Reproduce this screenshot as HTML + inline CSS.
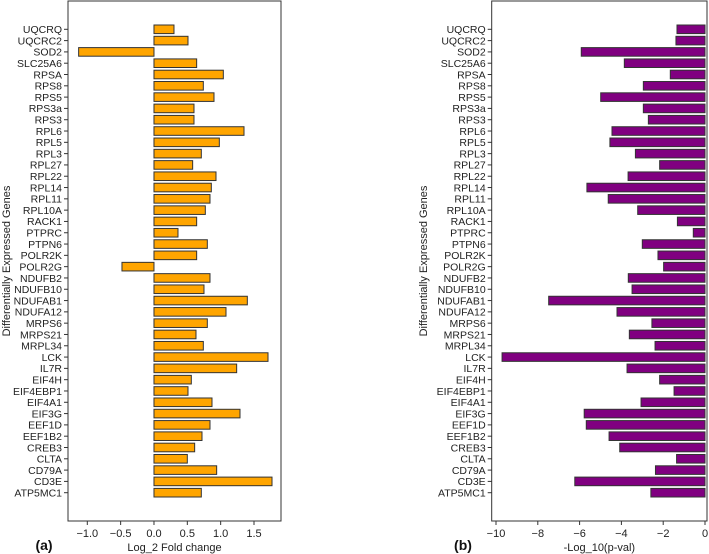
<!DOCTYPE html>
<html><head><meta charset="utf-8"><style>
body{margin:0;background:#fff;}
svg{display:block;font-family:"Liberation Sans","DejaVu Sans",sans-serif;}
</style></head><body>
<svg id="chart" width="709" height="554"></svg>
<script>
const genes=["UQCRQ","UQCRC2","SOD2","SLC25A6","RPSA","RPS8","RPS5","RPS3a","RPS3","RPL6","RPL5","RPL3","RPL27","RPL22","RPL14","RPL11","RPL10A","RACK1","PTPRC","PTPN6","POLR2K","POLR2G","NDUFB2","NDUFB10","NDUFAB1","NDUFA12","MRPS6","MRPS21","MRPL34","LCK","IL7R","EIF4H","EIF4EBP1","EIF4A1","EIF3G","EEF1D","EEF1B2","CREB3","CLTA","CD79A","CD3E","ATP5MC1"];
const foldChange=[0.30,0.51,-1.13,0.64,1.04,0.74,0.90,0.60,0.60,1.35,0.98,0.71,0.58,0.93,0.86,0.84,0.77,0.64,0.36,0.80,0.64,-0.48,0.84,0.75,1.40,1.08,0.80,0.63,0.74,1.71,1.24,0.56,0.51,0.87,1.29,0.84,0.72,0.61,0.50,0.94,1.77,0.71];
const negLogP=[-1.34,-1.39,-5.92,-3.86,-1.66,-2.95,-4.99,-2.95,-2.71,-4.45,-4.55,-3.33,-2.17,-3.68,-5.65,-4.63,-3.22,-1.32,-0.56,-3.0,-2.25,-1.98,-3.67,-3.49,-7.48,-4.21,-2.54,-3.62,-2.39,-9.71,-3.73,-2.17,-1.48,-3.06,-5.78,-5.68,-4.59,-4.08,-1.36,-2.37,-6.23,-2.59];
const ticksA=[-1.0,-0.5,0.0,0.5,1.0,1.5];
const ticksB=[-10,-8,-6,-4,-2,0];
const svg=document.getElementById('chart');
const NS="http://www.w3.org/2000/svg";
function mk(tag,attrs,parent){const e=document.createElementNS(NS,tag);for(const k in attrs)e.setAttribute(k,attrs[k]);(parent||svg).appendChild(e);return e;}
function rowY(i){return 29.3+i*(492.7-29.3)/(genes.length-1);}
function panel(cfg){
  const g=mk('g',{});
  
  
  const sx=v=>cfg.x0+(v-cfg.d0)*(cfg.x1-cfg.x0)/(cfg.d1-cfg.d0);
  const zero=sx(0);
  cfg.values.forEach((v,i)=>{
    const y=rowY(i);
    const r=mk('rect',{x:Math.min(sx(v),zero),y:y-4.3,width:Math.abs(sx(v)-zero),height:8.6,fill:cfg.color,stroke:'#333',"stroke-width":1},g);
    
    
    mk('line',{x1:cfg.left-4,x2:cfg.left,y1:y,y2:y,stroke:'#333'},g);
    const t=mk('text',{x:cfg.left-6,y:y+3.8,"text-anchor":"end","font-size":"10.5",fill:'#222'},g);
    t.textContent=genes[i];
    
    
  });
  cfg.ticks.forEach(v=>{
    const x=sx(v);
    mk('line',{x1:x,x2:x,y1:521,y2:525,stroke:'#333'},g);
    const t=mk('text',{x:x,y:537,"text-anchor":"middle","font-size":"11",fill:'#222'},g);
    t.textContent=(v<0?'\u2212':'')+(cfg.fmt?Math.abs(v).toFixed(1):Math.abs(v));
    
    
  });
  const fr=mk('rect',{x:cfg.left,y:1,width:cfg.right-cfg.left,height:520,fill:'none',stroke:'#333',"stroke-width":1},g);
  
  
  const xl=mk('text',{x:(cfg.left+cfg.right)/2,y:551,"text-anchor":"middle","font-size":"11",fill:'#222'},g);
  xl.textContent=cfg.xlabel;
  
  
  const yl=mk('text',{x:0,y:0,transform:`translate(${cfg.ytx},261) rotate(-90)`,"text-anchor":"middle","font-size":"11",fill:'#222'},g);
  yl.textContent="Differentially Expressed Genes";
  
  
  const pl=mk('text',{x:cfg.plx,y:550,"text-anchor":"middle","font-size":"14","font-weight":"bold",fill:'#111'},g);
  pl.textContent=cfg.plabel;
  
  
}
panel({name:'panel-a-fold-change',left:68,right:281,x0:87.3,x1:254,d0:-1,d1:1.5,values:foldChange,color:'#FFA500',ticks:ticksA,fmt:true,xlabel:'Log_2 Fold change',ytx:10,plabel:'(a)',plx:44});
panel({name:'panel-b-pvalue',left:491.7,right:707,x0:496,x1:705,d0:-10,d1:0,values:negLogP,color:'#800080',ticks:ticksB,fmt:false,xlabel:'-Log_10(p-val)',ytx:427,plabel:'(b)',plx:463});
</script>
</body></html>
